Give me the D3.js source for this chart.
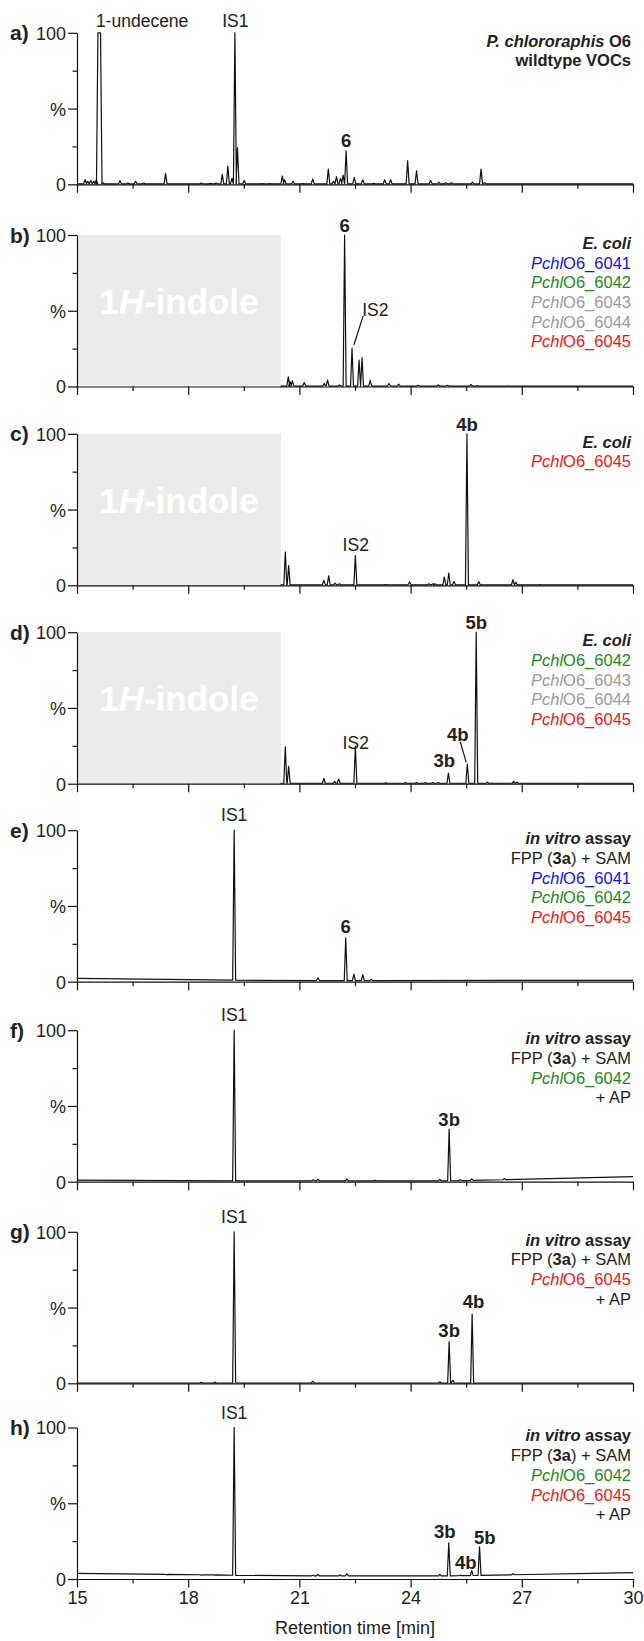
<!DOCTYPE html>
<html>
<head>
<meta charset="utf-8">
<script src="https://cdn.jsdelivr.net/npm/d3@7"></script>
<style>
body { margin: 0; background: #fff; }
svg { display: block; font-family: "Liberation Sans", Arial, sans-serif; }
</style>
</head>
<body>
<svg id="chart" width="644" height="1641"></svg>
<script>
// x axis (retention time, min) and y axis (relative intensity, %)
var xMajor = [15, 18, 21, 24, 27, 30];
var xMinor = [16.5, 19.5, 22.5, 25.5, 28.5];
var yMajor = [0, 50, 100];
var yMinor = [25, 75];
var yLabels = {0: "0", 50: "%", 100: "100"};

var panelLetters = ["a)", "b)", "c)", "d)", "e)", "f)", "g)", "h)"];

// where each trace starts (b-d are cut off under the indole box)
var traceStart = [15, 20.49, 20.49, 20.49, 15, 15, 15, 15];
var indoleEnd = 20.5; // grey box in b, c, d
var hasIndole = [false, true, true, true, false, false, false, false];

// baselines: [rt, %]
var baseA = [[15, 0.3], [30, 0.3]];
var baseB = [[15, 0.3], [30, 0.3]];
var baseC = [[15, 0.3], [30, 0.3]];
var baseD = [[15, 0.3], [30, 0.3]];
var baseE = [[15, 2.2], [19, 1.1], [20, 0.7], [30, 0.9]];
var baseF = [[15, 1], [16, 0.6], [25, 0.6], [26, 1], [30, 3.3]];
var baseG = [[15, 0.2], [30, 0.2]];
var baseH = [[15, 3.7], [19, 2.6], [20, 2], [25, 2], [30, 4.2]];

// peaks: [rt, apex %, flat-top half width (optional)]
var peaksA = [[15.22, 3], [15.29, 2], [15.37, 2.5], [15.45, 2], [15.52, 3], [15.6, 100, 0.035],
  [15.7, 1], [16.16, 2.5], [16.37, 0.8], [16.58, 2], [16.8, 0.8], [17.39, 7],
  [18.35, 0.8], [18.6, 0.6], [18.75, 0.8], [18.92, 6.5], [19.07, 12], [19.18, 4], [19.26, 100], [19.33, 24], [19.51, 2.5],
  [20.0, 0.5], [20.2, 0.5], [20.54, 5.5], [20.6, 3], [20.83, 2], [21.1, 0.5], [21.36, 3.5], [21.78, 10],
  [21.92, 2], [22.0, 5], [22.11, 4], [22.18, 6], [22.26, 22], [22.48, 4.5], [22.71, 3], [23.0, 0.6],
  [23.3, 3], [23.46, 3], [23.92, 15.5], [24.16, 8.8], [24.54, 2.5], [24.76, 1.5], [24.95, 1], [25.1, 1],
  [25.67, 1.5], [25.9, 10], [26.0, 1]];
var peaksB = [[20.7, 6.4], [20.75, 3], [20.81, 3.7], [21.13, 2.6], [21.67, 2], [21.76, 4.2], [22.08, 1],
  [22.22, 100], [22.42, 25.3], [22.61, 17.4], [22.69, 19], [22.91, 4], [23.42, 2], [23.68, 1.5],
  [24.2, 0.8], [24.75, 1], [25.0, 0.8], [25.63, 1.3], [25.8, 0.6], [26.6, 0.5]];
var peaksC = [[20.62, 22], [20.71, 13], [21.66, 3.3], [21.79, 6.2], [21.96, 1.5], [22.08, 1], [22.51, 19.6],
  [23.33, 0.5], [23.97, 2.2], [24.49, 1], [24.6, 1], [24.66, 1], [24.91, 5.5], [25.03, 8.1], [25.17, 2.5],
  [25.52, 100], [25.84, 2.4], [26.76, 3.7], [26.84, 2], [27.5, 0.4]];
var peaksD = [[20.62, 24.4], [20.71, 11.5], [21.66, 3.5], [21.95, 1.5], [22.06, 3], [22.51, 24.9],
  [23.33, 0.5], [23.86, 0.7], [24.16, 0.7], [24.4, 0.7], [24.6, 0.7], [24.75, 0.8], [25.02, 6.8],
  [25.53, 13], [25.77, 100], [26.07, 1], [26.78, 1.5], [26.87, 1]];
var peaksE = [[19.24, 100], [21.5, 2.6], [22.25, 28.9], [22.47, 5], [22.71, 4.6], [22.94, 1.5]];
var peaksF = [[19.24, 100], [21.37, 1.3], [21.5, 1.6], [22.28, 1.8], [23.04, 0.9], [24.79, 1.5],
  [25.04, 34.7], [25.34, 1.3], [25.65, 1.8], [26.53, 2]];
var peaksG = [[18.35, 0.7], [18.72, 0.8], [19.24, 100], [21.36, 1.5], [24.79, 1], [25.04, 27.5],
  [25.14, 2], [25.66, 45.7]];
var peaksH = [[17.41, 2.8], [18.35, 2.6], [18.72, 2.6], [19.24, 100], [21.36, 2.5], [21.5, 3],
  [22.09, 2.8], [22.28, 3.5], [24.79, 3], [25.03, 23.9], [25.34, 2.5], [25.65, 5.5], [25.86, 21.2], [26.76, 3.5]];

// peak labels: [text, rt, %, bold, anchor]
var labelsA = [["1-undecene", 15.51, 107.7, false, "start"], ["IS1", 19.27, 107.7, false, "middle"], ["6", 22.26, 28.7, true, "middle"]];
var labelsB = [["6", 22.22, 106.4, true, "middle"], ["IS2", 23.05, 51, false, "middle"]];
var labelsC = [["IS2", 22.52, 26.6, false, "middle"], ["4b", 25.52, 106, true, "middle"]];
var labelsD = [["IS2", 22.52, 27.3, false, "middle"], ["3b", 24.91, 15.2, true, "middle"], ["4b", 25.27, 32.4, true, "middle"], ["5b", 25.77, 106.3, true, "middle"]];
var labelsE = [["IS1", 19.24, 110, false, "middle"], ["6", 22.25, 36.3, true, "middle"]];
var labelsF = [["IS1", 19.24, 110, false, "middle"], ["3b", 25.04, 41.3, true, "middle"]];
var labelsG = [["IS1", 19.24, 110, false, "middle"], ["3b", 25.04, 34.7, true, "middle"], ["4b", 25.7, 54.3, true, "middle"]];
var labelsH = [["IS1", 19.24, 110, false, "middle"], ["3b", 24.92, 31.7, true, "middle"], ["4b", 25.49, 11.2, true, "middle"], ["5b", 26.0, 27.8, true, "middle"]];

// leader lines: [rt1, %1, rt2, %2]
var leadersB = [[22.72, 46.6, 22.47, 27.4]];
var leadersD = [[25.34, 27.7, 25.5, 14.1]];

// right-hand legends: each line is a list of [text, style, colour]
var blue = "#1010f5", green = "#1a8a1a", grey = "#9b9b9b", red = "#f51414";
function strain(num, col) { return [["Pchl", "i", col], ["O6_" + num, "", col]]; }
var legendA = [[["P. chlororaphis", "bi", "#222"], [" O6", "b", "#222"]], [["wildtype VOCs", "b", "#222"]]];
var legendB = [[["E. coli", "bi", "#222"]], strain("6041", blue), strain("6042", green), strain("6043", grey), strain("6044", grey), strain("6045", red)];
var legendC = [[["E. coli", "bi", "#222"]], strain("6045", red)];
var legendD = [[["E. coli", "bi", "#222"]], strain("6042", green), strain("6043", grey), strain("6044", grey), strain("6045", red)];
var assay = [["in vitro", "bi", "#222"], [" assay", "b", "#222"]];
var substrate = [["FPP (", "", "#222"], ["3a", "b", "#222"], [") + SAM", "", "#222"]];
var ap = [["+ AP", "", "#222"]];
var legendE = [assay, substrate, strain("6041", blue), strain("6042", green), strain("6045", red)];
var legendF = [assay, substrate, strain("6042", green), ap];
var legendG = [assay, substrate, strain("6045", red), ap];
var legendH = [assay, substrate, strain("6042", green), strain("6045", red), ap];

var bases = [baseA, baseB, baseC, baseD, baseE, baseF, baseG, baseH];
var peaks = [peaksA, peaksB, peaksC, peaksD, peaksE, peaksF, peaksG, peaksH];
var labels = [labelsA, labelsB, labelsC, labelsD, labelsE, labelsF, labelsG, labelsH];
var leaders = [[], leadersB, [], leadersD, [], [], [], []];
var legends = [legendA, legendB, legendC, legendD, legendE, legendF, legendG, legendH];

// layout
var svg = d3.select("#chart");
var left = 77, right = 633;
var panelBottom = [184.3, 386.5, 585.3, 783.7, 981.7, 1181.7, 1383.3, 1579];
var panelH = 151.5;
var footW = 0.04; // half width of a peak foot, min

var x = d3.scaleLinear().domain([15, 30]).range([left, right]);
var line = d3.line().x(function(d) { return x(d[0]); });

panelLetters.forEach(function(letter, i) {
  var b = panelBottom[i];
  var y = d3.scaleLinear().domain([0, 100]).range([b, b - panelH]);
  var base = d3.scaleLinear().domain(bases[i].map(function(d) { return d[0]; }))
    .range(bases[i].map(function(d) { return d[1]; })).clamp(true);
  var g = svg.append("g");

  if (hasIndole[i]) {
    g.append("rect").attr("x", x(15)).attr("y", y(100))
      .attr("width", x(indoleEnd) - x(15)).attr("height", y(0) - y(100))
      .attr("fill", "#ebebeb");
    var t = g.append("text").attr("x", (x(15) + x(indoleEnd)) / 2).attr("y", y(56))
      .attr("dy", "0.36em").attr("text-anchor", "middle").attr("fill", "#fff")
      .attr("font-size", 35).attr("font-weight", "bold");
    t.append("tspan").text("1");
    t.append("tspan").attr("font-style", "italic").text("H");
    t.append("tspan").text("-indole");
  }

  // build the trace vertices
  var pts = [[traceStart[i], base(traceStart[i])]];
  peaks[i].forEach(function(p) {
    var hw = p[2] || 0;
    pts.push([p[0] - hw - footW, base(p[0] - hw - footW)]);
    pts.push([p[0] - hw, p[1]]);
    if (hw) pts.push([p[0] + hw, p[1]]);
    pts.push([p[0] + hw + footW, base(p[0] + hw + footW)]);
  });
  pts.push([30, base(30)]);
  line.y(function(d) { return y(d[1]); });
  g.append("path").datum(pts).attr("d", line)
    .attr("fill", "none").attr("stroke", "#111").attr("stroke-width", 1.2)
    .attr("stroke-linejoin", "round");

  // axes
  var last = i === panelLetters.length - 1;
  g.append("g").attr("transform", "translate(0," + b + ")")
    .call(d3.axisBottom(x).tickValues(xMajor).tickSize(8.5).tickSizeOuter(0).tickPadding(4)
      .tickFormat(function(d) { return last ? d : ""; }));
  g.append("g").attr("transform", "translate(0," + b + ")")
    .call(d3.axisBottom(x).tickValues(xMinor).tickSize(4.5).tickFormat(""))
    .select(".domain").remove();
  var ya = g.append("g").attr("transform", "translate(" + left + ",0)")
    .call(d3.axisLeft(y).tickValues(yMajor).tickSize(9).tickSizeOuter(0).tickPadding(2)
      .tickFormat(function(d) { return yLabels[d]; }));
  g.append("g").attr("transform", "translate(" + left + ",0)")
    .call(d3.axisLeft(y).tickValues(yMinor).tickSize(4.5).tickFormat(""))
    .select(".domain").remove();
  g.selectAll(".domain, .tick line").attr("stroke", "#111").attr("stroke-width", 1.2);
  g.selectAll(".tick text").attr("font-size", 18).attr("fill", "#222")
    .attr("font-family", "'Liberation Sans', Arial, sans-serif");
  ya.selectAll(".tick text").attr("dy", "0.36em");

  // panel letter
  g.append("text").attr("x", 10).attr("y", y(100)).attr("dy", "0.36em")
    .attr("font-size", 21).attr("font-weight", "bold").attr("fill", "#222").text(letter);

  // peak labels
  labels[i].forEach(function(l) {
    g.append("text").attr("x", x(l[1])).attr("y", y(l[2])).attr("dy", "0.36em")
      .attr("text-anchor", l[4]).attr("font-size", l[3] ? 18.5 : 17.5)
      .attr("font-weight", l[3] ? "bold" : "normal").attr("fill", "#222").text(l[0]);
  });
  leaders[i].forEach(function(l) {
    g.append("line").attr("x1", x(l[0])).attr("y1", y(l[1])).attr("x2", x(l[2])).attr("y2", y(l[3]))
      .attr("stroke", "#111").attr("stroke-width", 1.2);
  });

  // right-hand legend
  legends[i].forEach(function(row, r) {
    var t = g.append("text").attr("x", 631).attr("y", y(100) + 8 + r * 19.7).attr("dy", "0.36em")
      .attr("text-anchor", "end").attr("font-size", 16.5);
    row.forEach(function(s) {
      t.append("tspan").text(s[0]).attr("fill", s[2])
        .attr("font-weight", s[1].indexOf("b") >= 0 ? "bold" : "normal")
        .attr("font-style", s[1].indexOf("i") >= 0 ? "italic" : "normal")
        .style("white-space", "pre");
    });
  });
});

svg.append("text").attr("x", (left + right) / 2).attr("y", 1628).attr("dy", "0.36em")
  .attr("text-anchor", "middle").attr("font-size", 18).attr("fill", "#222").text("Retention time [min]");
</script>
</body>
</html>
